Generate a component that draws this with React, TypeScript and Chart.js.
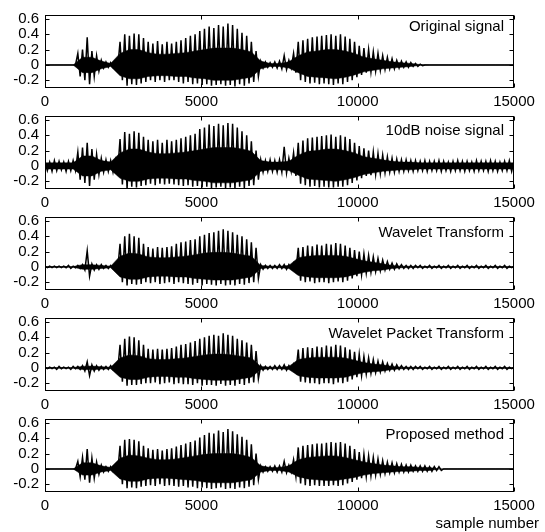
import React, { useEffect, useRef } from "react";
import { Chart, registerables } from "chart.js";
Chart.register(...registerables);

const STEP = 150; // samples between envelope readings
const CORE_STEP = 300; // samples between dense-core readings
const xTicks = [0, 5000, 10000, 15000];
const yTicks = [-0.2, 0, 0.2, 0.4, 0.6];
const yTickLabels = ["-0.2", "0", "0.2", "0.4", "0.6"];
const titles = ["Original signal", "10dB noise signal", "Wavelet Transform", "Wavelet Packet Transform", "Proposed method"];
const xAxisLabel = "sample number";

// ---------- Original signal ----------
const origUp = [
  0, 0, 0, 0, 0, 0, 0, 0.15, 0.2, 0.36,
  0.18, 0.12, 0.06, 0.04, 0.03, 0.05, 0.3, 0.4, 0.38, 0.41,
  0.4, 0.35, 0.3, 0.28, 0.31, 0.27, 0.3, 0.28, 0.3, 0.32,
  0.35, 0.38, 0.4, 0.44, 0.47, 0.5, 0.48, 0.52, 0.5, 0.54,
  0.52, 0.47, 0.42, 0.38, 0.3, 0.18, 0.05, 0.04, 0.03, 0.04,
  0.05, 0.12, 0.06, 0.15, 0.3, 0.32, 0.34, 0.36, 0.37, 0.38,
  0.39, 0.4, 0.38, 0.4, 0.37, 0.34, 0.3, 0.25, 0.22, 0.2,
  0.17, 0.15, 0.12, 0.1, 0.08, 0.06, 0.05, 0.04, 0.03, 0.02,
  0.01, 0, 0, 0, 0, 0, 0, 0, 0, 0,
  0, 0, 0, 0, 0, 0, 0, 0, 0, 0, 0,
];
const origDn = [
  0, 0, 0, 0, 0, 0, 0, -0.15, -0.2, -0.25,
  -0.15, -0.08, -0.04, -0.03, -0.03, -0.04, -0.2, -0.27, -0.25, -0.26,
  -0.24, -0.22, -0.2, -0.22, -0.2, -0.22, -0.2, -0.2, -0.22, -0.24,
  -0.22, -0.25, -0.24, -0.26, -0.25, -0.27, -0.26, -0.25, -0.27, -0.26,
  -0.28, -0.25, -0.27, -0.24, -0.22, -0.15, -0.04, -0.03, -0.03, -0.04,
  -0.05, -0.06, -0.04, -0.1, -0.2, -0.22, -0.24, -0.23, -0.25, -0.24,
  -0.25, -0.26, -0.24, -0.25, -0.22, -0.2, -0.16, -0.13, -0.1, -0.09,
  -0.08, -0.07, -0.06, -0.05, -0.05, -0.04, -0.03, -0.03, -0.02, -0.02,
  -0.01, 0, 0, 0, 0, 0, 0, 0, 0, 0,
  0, 0, 0, 0, 0, 0, 0, 0, 0, 0, 0,
];
const origCoreUp = [
  0, 0, 0, 0, 0.1, 0.1, 0.05, 0.02, 0.15, 0.2,
  0.2, 0.16, 0.14, 0.14, 0.15, 0.16, 0.18, 0.2, 0.22, 0.22,
  0.22, 0.2, 0.17, 0.05, 0.02, 0.02, 0.04, 0.12, 0.17, 0.18,
  0.2, 0.2, 0.18, 0.15, 0.1, 0.08, 0.06, 0.04, 0.03, 0.02,
  0.005, 0, 0, 0, 0, 0, 0, 0, 0, 0, 0,
];
const origCoreDn = [
  0, 0, 0, 0, -0.1, -0.1, -0.05, -0.02, -0.14, -0.18,
  -0.18, -0.15, -0.14, -0.14, -0.15, -0.15, -0.17, -0.18, -0.2, -0.2,
  -0.2, -0.18, -0.16, -0.05, -0.02, -0.02, -0.04, -0.1, -0.15, -0.16,
  -0.17, -0.18, -0.16, -0.13, -0.09, -0.07, -0.05, -0.04, -0.03, -0.02,
  -0.005, 0, 0, 0, 0, 0, 0, 0, 0, 0, 0,
];

// ---------- 10dB noise signal ----------
const noisyUp = [
  0.06, 0.05, 0.07, 0.06, 0.05, 0.06, 0.07, 0.18, 0.24, 0.3,
  0.22, 0.15, 0.1, 0.08, 0.07, 0.08, 0.35, 0.44, 0.42, 0.45,
  0.43, 0.38, 0.34, 0.32, 0.34, 0.3, 0.34, 0.32, 0.34, 0.36,
  0.38, 0.4, 0.42, 0.48, 0.5, 0.54, 0.52, 0.55, 0.53, 0.56,
  0.55, 0.5, 0.45, 0.4, 0.32, 0.2, 0.08, 0.07, 0.08, 0.07,
  0.08, 0.25, 0.1, 0.17, 0.3, 0.33, 0.36, 0.37, 0.38, 0.39,
  0.4, 0.41, 0.38, 0.4, 0.38, 0.35, 0.3, 0.26, 0.23, 0.2,
  0.18, 0.16, 0.14, 0.12, 0.1, 0.09, 0.08, 0.08, 0.07, 0.07,
  0.06, 0.07, 0.06, 0.06, 0.07, 0.06, 0.05, 0.06, 0.07, 0.06,
  0.06, 0.05, 0.07, 0.06, 0.06, 0.07, 0.06, 0.05, 0.06, 0.07, 0.06,
];
const noisyDn = [
  -0.06, -0.07, -0.06, -0.05, -0.07, -0.06, -0.06, -0.18, -0.22, -0.26,
  -0.18, -0.11, -0.08, -0.07, -0.08, -0.07, -0.24, -0.3, -0.27, -0.28,
  -0.26, -0.25, -0.23, -0.25, -0.23, -0.24, -0.23, -0.24, -0.25, -0.26,
  -0.25, -0.27, -0.26, -0.28, -0.27, -0.29, -0.28, -0.27, -0.29, -0.28,
  -0.3, -0.27, -0.29, -0.26, -0.25, -0.18, -0.08, -0.07, -0.07, -0.08,
  -0.08, -0.09, -0.07, -0.13, -0.23, -0.25, -0.27, -0.26, -0.28, -0.27,
  -0.28, -0.28, -0.27, -0.27, -0.25, -0.22, -0.19, -0.16, -0.13, -0.12,
  -0.11, -0.1, -0.09, -0.08, -0.08, -0.07, -0.07, -0.06, -0.07, -0.06,
  -0.06, -0.07, -0.06, -0.06, -0.07, -0.06, -0.07, -0.06, -0.06, -0.07,
  -0.06, -0.07, -0.06, -0.06, -0.07, -0.06, -0.07, -0.06, -0.06, -0.07, -0.06,
];
const noisyCoreUp = [
  0.04, 0.04, 0.04, 0.04, 0.13, 0.13, 0.07, 0.05, 0.17, 0.22,
  0.22, 0.18, 0.16, 0.16, 0.17, 0.18, 0.2, 0.22, 0.24, 0.24,
  0.24, 0.22, 0.19, 0.07, 0.05, 0.05, 0.06, 0.14, 0.19, 0.2,
  0.22, 0.22, 0.2, 0.17, 0.12, 0.1, 0.08, 0.06, 0.05, 0.05,
  0.04, 0.04, 0.04, 0.04, 0.04, 0.04, 0.04, 0.04, 0.04, 0.04, 0.04,
];
const noisyCoreDn = [
  -0.04, -0.04, -0.04, -0.04, -0.13, -0.13, -0.07, -0.05, -0.16, -0.2,
  -0.2, -0.17, -0.16, -0.16, -0.17, -0.17, -0.19, -0.2, -0.22, -0.22,
  -0.22, -0.2, -0.18, -0.07, -0.05, -0.05, -0.06, -0.12, -0.17, -0.18,
  -0.19, -0.2, -0.18, -0.15, -0.11, -0.09, -0.07, -0.06, -0.05, -0.05,
  -0.04, -0.04, -0.04, -0.04, -0.04, -0.04, -0.04, -0.04, -0.04, -0.04, -0.04,
];

// ---------- Wavelet Transform ----------
const wtUp = [
  0.01, 0.01, 0.01, 0.01, 0.01, 0.02, 0.01, 0.02, 0.03, 0.21,
  0.04, 0.03, 0.03, 0.02, 0.02, 0.03, 0.3, 0.4, 0.43, 0.4,
  0.38, 0.3, 0.26, 0.24, 0.26, 0.25, 0.26, 0.27, 0.3, 0.32,
  0.33, 0.35, 0.36, 0.4, 0.42, 0.44, 0.45, 0.47, 0.49, 0.47,
  0.45, 0.42, 0.4, 0.36, 0.32, 0.25, 0.03, 0.02, 0.02, 0.02,
  0.03, 0.03, 0.03, 0.05, 0.25, 0.26, 0.28, 0.27, 0.29, 0.28,
  0.3, 0.29, 0.31, 0.3, 0.28, 0.25, 0.22, 0.2, 0.17, 0.15,
  0.13, 0.11, 0.09, 0.07, 0.05, 0.04, 0.03, 0.02, 0.02, 0.02,
  0.02, 0.01, 0.02, 0.01, 0.02, 0.01, 0.02, 0.01, 0.02, 0.01,
  0.02, 0.01, 0.02, 0.01, 0.02, 0.01, 0.02, 0.01, 0.02, 0.01, 0.01,
];
const wtDn = [
  -0.01, -0.01, -0.01, -0.01, -0.01, -0.02, -0.01, -0.02, -0.04, -0.12,
  -0.04, -0.03, -0.02, -0.02, -0.02, -0.03, -0.2, -0.24, -0.22, -0.23,
  -0.22, -0.2, -0.21, -0.2, -0.22, -0.21, -0.2, -0.22, -0.2, -0.21,
  -0.22, -0.23, -0.21, -0.24, -0.22, -0.23, -0.24, -0.22, -0.24, -0.23,
  -0.24, -0.22, -0.23, -0.21, -0.2, -0.15, -0.03, -0.02, -0.02, -0.02,
  -0.02, -0.03, -0.02, -0.05, -0.18, -0.2, -0.19, -0.21, -0.2, -0.2,
  -0.21, -0.2, -0.19, -0.2, -0.18, -0.15, -0.12, -0.1, -0.08, -0.07,
  -0.06, -0.05, -0.04, -0.03, -0.03, -0.02, -0.02, -0.02, -0.02, -0.01,
  -0.02, -0.01, -0.02, -0.01, -0.02, -0.01, -0.02, -0.01, -0.02, -0.01,
  -0.02, -0.01, -0.02, -0.01, -0.02, -0.01, -0.02, -0.01, -0.02, -0.01, -0.01,
];
const wtCoreUp = [
  0.005, 0.005, 0.005, 0.005, 0.03, 0.03, 0.02, 0.01, 0.14, 0.18,
  0.17, 0.13, 0.12, 0.12, 0.13, 0.14, 0.16, 0.18, 0.19, 0.19,
  0.18, 0.16, 0.14, 0.02, 0.01, 0.01, 0.02, 0.12, 0.14, 0.15,
  0.15, 0.15, 0.14, 0.11, 0.08, 0.06, 0.04, 0.02, 0.01, 0.008,
  0.006, 0.006, 0.006, 0.006, 0.006, 0.006, 0.006, 0.006, 0.006, 0.006, 0.006,
];
const wtCoreDn = [
  -0.005, -0.005, -0.005, -0.005, -0.03, -0.03, -0.02, -0.01, -0.13, -0.16,
  -0.16, -0.13, -0.12, -0.12, -0.13, -0.13, -0.15, -0.16, -0.17, -0.17,
  -0.17, -0.15, -0.13, -0.02, -0.01, -0.01, -0.02, -0.11, -0.13, -0.14,
  -0.14, -0.14, -0.13, -0.1, -0.07, -0.05, -0.04, -0.02, -0.01, -0.008,
  -0.006, -0.006, -0.006, -0.006, -0.006, -0.006, -0.006, -0.006, -0.006, -0.006, -0.006,
];

// ---------- Wavelet Packet Transform ----------
const wptUp = [
  0.01, 0.01, 0.01, 0.02, 0.01, 0.01, 0.02, 0.02, 0.03, 0.08,
  0.04, 0.03, 0.02, 0.02, 0.03, 0.03, 0.3, 0.38, 0.41, 0.4,
  0.36, 0.3, 0.25, 0.24, 0.25, 0.24, 0.25, 0.26, 0.28, 0.3,
  0.31, 0.33, 0.35, 0.38, 0.4, 0.42, 0.43, 0.42, 0.45, 0.43,
  0.42, 0.38, 0.36, 0.33, 0.3, 0.22, 0.03, 0.02, 0.02, 0.03,
  0.03, 0.04, 0.03, 0.05, 0.24, 0.26, 0.27, 0.26, 0.28, 0.27,
  0.29, 0.28, 0.3, 0.29, 0.27, 0.24, 0.21, 0.18, 0.15, 0.13,
  0.11, 0.09, 0.08, 0.06, 0.05, 0.04, 0.03, 0.02, 0.02, 0.02,
  0.02, 0.01, 0.02, 0.01, 0.02, 0.01, 0.02, 0.01, 0.02, 0.01,
  0.02, 0.01, 0.02, 0.01, 0.02, 0.01, 0.02, 0.01, 0.02, 0.01, 0.01,
];
const wptDn = [
  -0.01, -0.01, -0.02, -0.01, -0.01, -0.02, -0.01, -0.02, -0.04, -0.1,
  -0.04, -0.03, -0.02, -0.02, -0.02, -0.03, -0.18, -0.23, -0.22, -0.22,
  -0.21, -0.2, -0.2, -0.19, -0.21, -0.2, -0.19, -0.21, -0.2, -0.21,
  -0.21, -0.22, -0.2, -0.23, -0.22, -0.22, -0.23, -0.21, -0.23, -0.22,
  -0.23, -0.21, -0.22, -0.2, -0.19, -0.14, -0.03, -0.02, -0.02, -0.02,
  -0.02, -0.03, -0.02, -0.05, -0.18, -0.19, -0.2, -0.2, -0.21, -0.2,
  -0.2, -0.21, -0.19, -0.2, -0.18, -0.15, -0.12, -0.1, -0.08, -0.07,
  -0.06, -0.05, -0.04, -0.03, -0.03, -0.02, -0.02, -0.02, -0.02, -0.01,
  -0.02, -0.01, -0.02, -0.01, -0.02, -0.01, -0.02, -0.01, -0.02, -0.01,
  -0.02, -0.01, -0.02, -0.01, -0.02, -0.01, -0.02, -0.01, -0.02, -0.01, -0.01,
];
const wptCoreUp = [
  0.005, 0.005, 0.005, 0.005, 0.02, 0.025, 0.015, 0.01, 0.13, 0.17,
  0.16, 0.12, 0.11, 0.11, 0.12, 0.13, 0.15, 0.17, 0.18, 0.18,
  0.17, 0.15, 0.13, 0.02, 0.01, 0.01, 0.02, 0.11, 0.13, 0.14,
  0.14, 0.14, 0.13, 0.1, 0.07, 0.05, 0.04, 0.02, 0.01, 0.008,
  0.006, 0.006, 0.006, 0.006, 0.006, 0.006, 0.006, 0.006, 0.006, 0.006, 0.006,
];
const wptCoreDn = [
  -0.005, -0.005, -0.005, -0.005, -0.02, -0.025, -0.015, -0.01, -0.12, -0.15,
  -0.15, -0.12, -0.11, -0.11, -0.12, -0.12, -0.14, -0.15, -0.16, -0.16,
  -0.16, -0.14, -0.12, -0.02, -0.01, -0.01, -0.02, -0.1, -0.12, -0.13,
  -0.13, -0.13, -0.12, -0.09, -0.06, -0.05, -0.04, -0.02, -0.01, -0.008,
  -0.006, -0.006, -0.006, -0.006, -0.006, -0.006, -0.006, -0.006, -0.006, -0.006, -0.006,
];

// ---------- Proposed method ----------
const propUp = [
  0, 0, 0, 0, 0, 0, 0, 0.1, 0.15, 0.26,
  0.14, 0.09, 0.05, 0.03, 0.03, 0.04, 0.3, 0.38, 0.39, 0.38,
  0.36, 0.3, 0.27, 0.25, 0.26, 0.24, 0.26, 0.27, 0.29, 0.31,
  0.33, 0.35, 0.37, 0.41, 0.44, 0.47, 0.46, 0.5, 0.48, 0.52,
  0.49, 0.45, 0.42, 0.38, 0.32, 0.2, 0.04, 0.03, 0.03, 0.04,
  0.04, 0.1, 0.05, 0.12, 0.28, 0.3, 0.31, 0.32, 0.33, 0.33,
  0.34, 0.35, 0.34, 0.35, 0.33, 0.3, 0.26, 0.22, 0.19, 0.17,
  0.15, 0.13, 0.11, 0.09, 0.08, 0.07, 0.06, 0.05, 0.05, 0.04,
  0.04, 0.04, 0.03, 0.03, 0.03, 0, 0, 0, 0, 0,
  0, 0, 0, 0, 0, 0, 0, 0, 0, 0, 0,
];
const propDn = [
  0, 0, 0, 0, 0, 0, 0, -0.1, -0.14, -0.18,
  -0.12, -0.07, -0.04, -0.03, -0.03, -0.04, -0.2, -0.25, -0.24, -0.25,
  -0.23, -0.22, -0.21, -0.22, -0.2, -0.22, -0.21, -0.22, -0.23, -0.22,
  -0.24, -0.23, -0.25, -0.24, -0.25, -0.26, -0.25, -0.24, -0.26, -0.25,
  -0.26, -0.24, -0.25, -0.23, -0.21, -0.14, -0.04, -0.03, -0.03, -0.04,
  -0.04, -0.05, -0.04, -0.1, -0.19, -0.21, -0.22, -0.21, -0.22, -0.22,
  -0.22, -0.21, -0.22, -0.21, -0.19, -0.17, -0.14, -0.12, -0.1, -0.09,
  -0.08, -0.07, -0.06, -0.05, -0.05, -0.04, -0.04, -0.04, -0.03, -0.03,
  -0.03, -0.03, -0.03, -0.02, -0.02, 0, 0, 0, 0, 0,
  0, 0, 0, 0, 0, 0, 0, 0, 0, 0, 0,
];
const propCoreUp = [
  0, 0, 0, 0, 0.08, 0.08, 0.04, 0.02, 0.14, 0.18,
  0.17, 0.14, 0.12, 0.12, 0.13, 0.15, 0.17, 0.19, 0.2, 0.2,
  0.2, 0.18, 0.15, 0.04, 0.02, 0.02, 0.04, 0.12, 0.15, 0.16,
  0.17, 0.17, 0.15, 0.12, 0.09, 0.07, 0.05, 0.04, 0.03, 0.03,
  0.02, 0.02, 0, 0, 0, 0, 0, 0, 0, 0, 0,
];
const propCoreDn = [
  0, 0, 0, 0, -0.08, -0.08, -0.04, -0.02, -0.13, -0.16,
  -0.16, -0.13, -0.12, -0.12, -0.13, -0.14, -0.15, -0.17, -0.18, -0.18,
  -0.18, -0.16, -0.14, -0.04, -0.02, -0.02, -0.04, -0.1, -0.13, -0.14,
  -0.15, -0.15, -0.13, -0.11, -0.08, -0.06, -0.05, -0.04, -0.03, -0.03,
  -0.02, -0.02, 0, 0, 0, 0, 0, 0, 0, 0, 0,
];

const panels = [
  { up: origUp, dn: origDn, coreUp: origCoreUp, coreDn: origCoreDn },
  { up: noisyUp, dn: noisyDn, coreUp: noisyCoreUp, coreDn: noisyCoreDn },
  { up: wtUp, dn: wtDn, coreUp: wtCoreUp, coreDn: wtCoreDn },
  { up: wptUp, dn: wptDn, coreUp: wptCoreUp, coreDn: wptCoreDn },
  { up: propUp, dn: propDn, coreUp: propCoreUp, coreDn: propCoreDn },
];

const FONT = '"Liberation Sans", Arial, Helvetica, sans-serif';
const W = 545;
const PLOT_TOP = 12;
const PLOT_H = 76;
const PANEL_STEP = 101;
const TITLE_BASE = [16, 19, 20, 20, 20];

function Panel({ idx }: { idx: number }) {
  const ref = useRef<HTMLCanvasElement | null>(null);
  const last = idx === panels.length - 1;
  const H = last ? 128 : 112;
  useEffect(() => {
    const p = panels[idx];
    const zig = p.up.flatMap((u, i) => [
      { x: i * STEP, y: u },
      { x: i * STEP + STEP / 2, y: p.dn[i] },
    ]);
    const frame = {
      id: "frame" + idx,
      afterDraw(chart: any) {
        const { ctx, chartArea: a, scales } = chart;
        ctx.save();
        ctx.strokeStyle = "#000";
        ctx.lineWidth = 1;
        const L = Math.round(a.left) + 0.5;
        const R = Math.round(a.right) - 0.5;
        const T = Math.round(a.top) + 0.5;
        const B = Math.round(a.bottom) - 0.5;
        ctx.strokeRect(L, T, R - L, B - T);
        ctx.beginPath();
        for (const v of xTicks) {
          const px = Math.round(scales.x.getPixelForValue(v)) + 0.5;
          ctx.moveTo(px, B); ctx.lineTo(px, B - 4);
          ctx.moveTo(px, T); ctx.lineTo(px, T + 4);
        }
        for (const v of yTicks) {
          const py = Math.round(scales.y.getPixelForValue(v)) + 0.5;
          ctx.moveTo(L, py); ctx.lineTo(L + 4, py);
          ctx.moveTo(R, py); ctx.lineTo(R - 4, py);
        }
        ctx.stroke();
        ctx.fillStyle = "#000";
        ctx.font = "15px " + FONT;
        ctx.textAlign = "right";
        ctx.textBaseline = "alphabetic";
        ctx.fillText(titles[idx], a.right - 10, a.top + TITLE_BASE[idx]);
        if (last) {
          ctx.fillText(xAxisLabel, 539, 124);
        }
        ctx.restore();
      },
    };
    const chart = new Chart(ref.current as HTMLCanvasElement, {
      type: "line",
      data: {
        datasets: [
          {
            data: zig,
            borderColor: "#000",
            borderWidth: 1.5,
            pointRadius: 0,
            tension: 0,
            fill: false,
          },
          {
            data: p.coreUp.map((y, j) => ({ x: j * CORE_STEP, y })),
            borderColor: "#000",
            borderWidth: 0.5,
            backgroundColor: "#000",
            pointRadius: 0,
            tension: 0,
            fill: "+1",
          },
          {
            data: p.coreDn.map((y, j) => ({ x: j * CORE_STEP, y })),
            borderColor: "#000",
            borderWidth: 0.5,
            pointRadius: 0,
            tension: 0,
            fill: false,
          },
        ],
      },
      options: {
        animation: false,
        responsive: false,
        devicePixelRatio: 1,
        layout: { padding: { left: 0, right: 31, top: PLOT_TOP, bottom: 0 } },
        plugins: { legend: { display: false }, tooltip: { enabled: false } },
        scales: {
          x: {
            type: "linear",
            min: 0,
            max: 15000,
            grid: { display: false, drawTicks: false },
            border: { display: false },
            afterBuildTicks: (s: any) => {
              s.ticks = xTicks.map((v) => ({ value: v }));
            },
            afterFit: (s: any) => {
              s.height = H - PLOT_TOP - PLOT_H;
            },
            ticks: {
              color: "#000",
              font: { size: 15, family: FONT },
              padding: 5,
              maxRotation: 0,
              autoSkip: false,
              callback: (v: any) => String(v),
            },
          },
          y: {
            type: "linear",
            min: -0.3,
            max: 0.65,
            grid: { display: false, drawTicks: false },
            border: { display: false },
            afterBuildTicks: (s: any) => {
              s.ticks = yTicks.map((v) => ({ value: v }));
            },
            afterFit: (s: any) => {
              s.width = 45;
            },
            ticks: {
              color: "#000",
              font: { size: 15, family: FONT },
              padding: 6,
              autoSkip: false,
              callback: (v: any) => yTickLabels[yTicks.indexOf(v)] ?? String(v),
            },
          },
        },
      },
      plugins: [frame],
    });
    return () => chart.destroy();
  }, [idx]);
  return (
    <canvas
      ref={ref}
      width={W}
      height={H}
      style={{ position: "absolute", left: 0, top: idx * PANEL_STEP, width: W, height: H }}
    />
  );
}

export default function App() {
  return (
    <div style={{ position: "fixed", left: 0, top: 0, width: 545, height: 532, background: "#fff", overflow: "hidden" }}>
      {panels.map((_, i) => (
        <Panel key={i} idx={i} />
      ))}
    </div>
  );
}
